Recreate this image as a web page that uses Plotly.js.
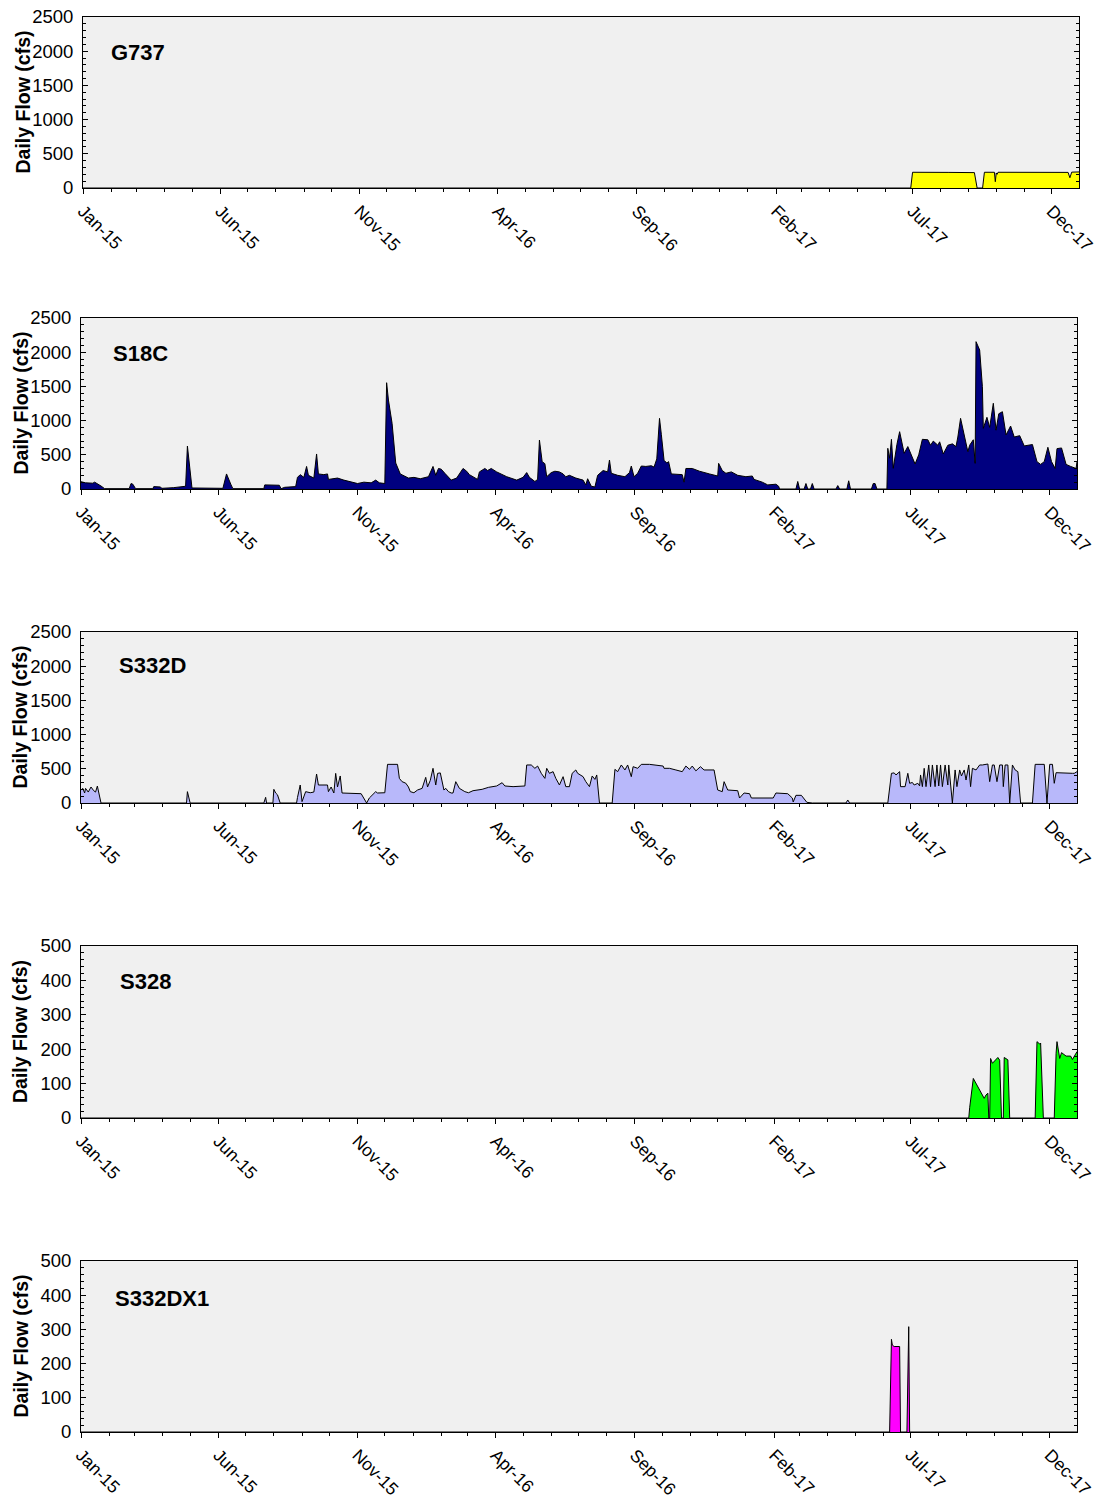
<!DOCTYPE html>
<html>
<head>
<meta charset="utf-8">
<script src="https://cdn.plot.ly/plotly-3.0.1.min.js"></script>
<style>html,body{margin:0;padding:0;background:#fff;}#chart{width:1107px;height:1500px;}</style>
</head>
<body>
<div id="chart"></div>
<script>
// ---------------- DATA ----------------
const stationNames = ["G737", "S18C", "S332D", "S328", "S332DX1"];
const yMax = [2500, 2500, 2500, 500, 500];
const fillColors = ["#ffff00", "#000080", "#b8b8fa", "#00ff00", "#ff00ff"];

const g737Dates = ["2015-01-01","2017-06-29","2017-07-01","2017-07-20","2017-08-10","2017-09-07","2017-09-10","2017-09-16","2017-09-18","2017-09-29","2017-09-30","2017-10-01","2017-10-02","2017-10-03","2017-10-15","2017-11-01","2017-11-20","2017-12-19","2017-12-21","2017-12-23","2017-12-31"];
const g737Flow  = [0,0,230,232,228,225,0,0,230,230,92,220,200,230,228,232,230,228,150,232,235];

const s18cDates = ["2015-01-01","2015-01-06","2015-01-14","2015-01-16","2015-01-23","2015-01-27","2015-02-23","2015-02-25","2015-02-27","2015-03-02","2015-03-21","2015-03-22","2015-03-29","2015-03-31","2015-04-13","2015-04-26","2015-04-28","2015-05-01","2015-05-03","2015-06-06","2015-06-10","2015-06-15","2015-06-17","2015-07-21","2015-07-22","2015-08-07","2015-08-09","2015-08-13","2015-08-25","2015-08-27","2015-08-30","2015-09-03","2015-09-06","2015-09-08","2015-09-10","2015-09-14","2015-09-17","2015-09-19","2015-09-25","2015-09-29","2015-09-30","2015-10-10","2015-10-17","2015-10-25","2015-11-01","2015-11-08","2015-11-16","2015-11-21","2015-11-25","2015-12-01","2015-12-03","2015-12-05","2015-12-09","2015-12-13","2015-12-18","2015-12-27","2016-01-02","2016-01-09","2016-01-18","2016-01-23","2016-01-26","2016-01-29","2016-02-01","2016-02-05","2016-02-12","2016-02-18","2016-02-25","2016-02-29","2016-03-03","2016-03-12","2016-03-14","2016-03-20","2016-03-23","2016-03-27","2016-04-02","2016-04-13","2016-04-24","2016-05-01","2016-05-05","2016-05-08","2016-05-14","2016-05-17","2016-05-19","2016-05-22","2016-05-25","2016-05-27","2016-06-01","2016-06-05","2016-06-10","2016-06-14","2016-06-17","2016-06-21","2016-06-28","2016-07-06","2016-07-09","2016-07-11","2016-07-15","2016-07-19","2016-07-22","2016-07-28","2016-08-02","2016-08-04","2016-08-06","2016-08-13","2016-08-21","2016-08-26","2016-08-28","2016-08-31","2016-09-04","2016-09-08","2016-09-13","2016-09-19","2016-09-22","2016-09-25","2016-09-28","2016-09-30","2016-10-03","2016-10-06","2016-10-08","2016-10-11","2016-10-23","2016-10-25","2016-10-27","2016-11-03","2016-11-11","2016-11-22","2016-12-01","2016-12-02","2016-12-06","2016-12-10","2016-12-16","2016-12-23","2017-01-01","2017-01-08","2017-01-10","2017-01-19","2017-01-25","2017-02-03","2017-02-06","2017-02-07","2017-02-25","2017-02-27","2017-03-01","2017-03-06","2017-03-08","2017-03-10","2017-03-13","2017-03-15","2017-03-17","2017-04-10","2017-04-12","2017-04-14","2017-04-22","2017-04-24","2017-04-26","2017-05-19","2017-05-21","2017-05-23","2017-05-25","2017-06-05","2017-06-06","2017-06-08","2017-06-10","2017-06-12","2017-06-16","2017-06-19","2017-06-22","2017-06-24","2017-06-28","2017-07-01","2017-07-06","2017-07-10","2017-07-14","2017-07-20","2017-07-23","2017-07-26","2017-07-31","2017-08-02","2017-08-06","2017-08-11","2017-08-16","2017-08-20","2017-08-22","2017-08-25","2017-08-29","2017-09-02","2017-09-04","2017-09-08","2017-09-10","2017-09-11","2017-09-15","2017-09-18","2017-09-19","2017-09-23","2017-09-26","2017-09-30","2017-10-03","2017-10-06","2017-10-10","2017-10-14","2017-10-19","2017-10-23","2017-10-29","2017-10-31","2017-11-03","2017-11-12","2017-11-17","2017-11-21","2017-11-25","2017-11-29","2017-12-03","2017-12-07","2017-12-09","2017-12-14","2017-12-19","2017-12-24","2017-12-30","2017-12-31"];
const s18cFlow  = [107,90,85,100,44,5,5,80,70,5,5,35,30,10,20,40,628,200,15,10,220,60,5,5,60,55,5,25,35,170,210,170,330,200,190,160,512,220,210,220,140,160,130,100,80,100,90,130,90,80,1554,1300,960,380,220,160,170,150,180,330,200,300,290,230,130,160,300,260,210,140,250,300,270,300,250,180,130,170,240,170,110,140,716,400,370,180,240,260,250,220,180,200,160,130,60,150,40,30,200,270,250,424,230,200,180,240,336,180,230,336,330,340,320,440,1033,800,420,380,400,220,210,100,300,300,260,220,190,375,270,230,250,200,180,190,140,100,60,70,40,0,0,110,0,0,80,0,0,80,0,0,50,0,0,120,0,0,80,80,0,0,595,450,726,302,650,838,620,522,620,520,365,500,726,720,640,700,640,690,512,640,660,620,760,1033,800,546,640,720,375,2154,2032,1496,887,1048,900,1253,860,1100,1130,790,921,760,780,720,630,650,400,360,400,610,400,300,590,600,360,330,300,400];

const s332dDates = ["2015-01-01","2015-01-03","2015-01-05","2015-01-06","2015-01-09","2015-01-12","2015-01-15","2015-01-17","2015-01-19","2015-01-21","2015-01-23","2015-04-27","2015-04-28","2015-05-01","2015-07-21","2015-07-23","2015-07-24","2015-07-31","2015-08-01","2015-08-03","2015-08-05","2015-08-08","2015-08-26","2015-08-27","2015-08-30","2015-09-01","2015-09-05","2015-09-10","2015-09-14","2015-09-17","2015-09-19","2015-09-29","2015-09-30","2015-10-03","2015-10-06","2015-10-08","2015-10-10","2015-10-13","2015-10-15","2015-11-05","2015-11-08","2015-11-11","2015-11-14","2015-11-21","2015-11-23","2015-12-01","2015-12-04","2015-12-15","2015-12-17","2015-12-20","2015-12-24","2015-12-27","2015-12-29","2016-01-02","2016-01-06","2016-01-11","2016-01-15","2016-01-17","2016-01-20","2016-01-23","2016-01-26","2016-01-28","2016-01-31","2016-02-02","2016-02-04","2016-02-06","2016-02-09","2016-02-12","2016-02-14","2016-02-17","2016-02-21","2016-02-27","2016-03-02","2016-03-07","2016-03-17","2016-03-24","2016-04-02","2016-04-08","2016-04-11","2016-04-20","2016-05-03","2016-05-05","2016-05-10","2016-05-14","2016-05-17","2016-05-21","2016-05-25","2016-05-27","2016-05-30","2016-06-03","2016-06-06","2016-06-10","2016-06-14","2016-06-17","2016-06-21","2016-06-24","2016-06-28","2016-06-30","2016-07-06","2016-07-09","2016-07-13","2016-07-16","2016-07-19","2016-07-21","2016-07-24","2016-08-07","2016-08-10","2016-08-13","2016-08-17","2016-08-21","2016-08-24","2016-08-28","2016-08-30","2016-09-04","2016-09-08","2016-09-17","2016-09-24","2016-10-02","2016-10-03","2016-10-09","2016-10-16","2016-10-23","2016-10-27","2016-10-31","2016-11-03","2016-11-07","2016-11-12","2016-11-16","2016-11-27","2016-12-01","2016-12-06","2016-12-08","2016-12-12","2016-12-23","2016-12-25","2016-12-30","2017-01-05","2017-01-07","2017-01-31","2017-02-03","2017-02-16","2017-02-21","2017-02-22","2017-02-25","2017-03-03","2017-03-06","2017-03-09","2017-03-15","2017-04-21","2017-04-23","2017-04-25","2017-06-06","2017-06-10","2017-06-13","2017-06-15","2017-06-19","2017-06-20","2017-06-25","2017-06-28","2017-06-30","2017-07-03","2017-07-05","2017-07-09","2017-07-11","2017-07-12","2017-07-14","2017-07-16","2017-07-18","2017-07-21","2017-07-23","2017-07-25","2017-07-28","2017-07-30","2017-08-01","2017-08-03","2017-08-05","2017-08-08","2017-08-11","2017-08-12","2017-08-16","2017-08-19","2017-08-21","2017-08-24","2017-08-26","2017-08-29","2017-08-31","2017-09-03","2017-09-05","2017-09-07","2017-09-11","2017-09-15","2017-09-18","2017-09-24","2017-09-26","2017-09-29","2017-10-01","2017-10-04","2017-10-07","2017-10-10","2017-10-11","2017-10-13","2017-10-16","2017-10-18","2017-10-21","2017-10-24","2017-10-27","2017-10-30","2017-11-12","2017-11-15","2017-11-25","2017-11-28","2017-12-01","2017-12-04","2017-12-06","2017-12-08","2017-12-26","2017-12-28","2017-12-31"];
const s332dFlow  = [190,214,146,214,160,234,180,160,248,102,0,0,166,0,0,83,0,0,200,146,120,0,0,80,263,20,166,150,160,424,263,263,166,234,146,433,234,395,146,136,73,0,73,166,146,150,565,565,360,312,290,234,166,150,190,214,375,234,330,507,263,433,440,336,190,214,166,146,146,312,214,166,150,180,200,229,249,297,249,239,249,556,556,507,540,434,360,507,434,458,360,263,385,239,239,434,483,434,385,312,239,395,345,410,0,0,492,458,556,483,556,385,531,507,565,565,556,540,507,507,483,458,540,492,540,470,531,483,483,190,166,312,190,180,73,146,136,73,73,146,136,73,15,112,112,60,10,0,0,44,0,0,434,440,410,458,239,239,434,288,300,263,288,250,410,239,507,239,556,239,556,239,556,249,556,239,556,263,556,0,483,239,483,395,483,336,556,239,507,483,556,556,570,312,556,556,312,556,556,239,556,556,0,556,483,458,0,0,565,565,0,565,565,288,443,434,434,458];

const s328Dates = ["2015-01-01","2017-09-03","2017-09-04","2017-09-06","2017-09-07","2017-09-08","2017-09-20","2017-09-22","2017-09-24","2017-09-25","2017-09-26","2017-09-27","2017-09-29","2017-10-01","2017-10-05","2017-10-07","2017-10-09","2017-10-11","2017-10-12","2017-10-16","2017-10-18","2017-11-15","2017-11-17","2017-11-20","2017-11-21","2017-11-24","2017-12-06","2017-12-08","2017-12-09","2017-12-12","2017-12-14","2017-12-19","2017-12-24","2017-12-26","2017-12-30","2017-12-31"];
const s328Flow  = [0,0,30,80,110,115,57,67,72,0,0,173,159,165,176,168,0,0,176,169,0,0,222,215,218,0,0,188,222,173,190,180,180,170,190,193];

const s332dx1Dates = ["2015-01-01","2017-06-08","2017-06-10","2017-06-11","2017-06-13","2017-06-19","2017-06-20","2017-06-27","2017-06-29","2017-06-30","2017-12-31"];
const s332dx1Flow  = [0,0,271,254,250,250,0,0,308,0,0];

// ---------------- CHART ----------------
const FONT = "Liberation Sans, Arial, Helvetica, sans-serif";
const W = 1107, H = 1500;
const xStart = "2015-01-01", xEnd = "2017-12-31";
// plot boxes in pixels [left, right, top, bottom]
const boxes = [[83,1079,17,188],[81,1077,318,489],[81,1077,632,803],[81,1077,946,1118],[81,1077,1261,1432]];
const seriesDates = [g737Dates, s18cDates, s332dDates, s328Dates, s332dx1Dates];
const seriesFlow = [g737Flow, s18cFlow, s332dFlow, s328Flow, s332dx1Flow];

const data = [];
const layout = {
  width: W, height: H,
  margin: {l:0, r:0, t:0, b:0},
  paper_bgcolor: "#ffffff",
  plot_bgcolor: "#f0f0f0",
  showlegend: false,
  font: {family: FONT, color: "#000"},
  annotations: []
};

boxes.forEach((b, i) => {
  const n = i + 1;
  const xa = "xaxis" + (n === 1 ? "" : n);
  const ya = "yaxis" + (n === 1 ? "" : n);
  const xr = "x" + (n === 1 ? "" : n);
  const yr = "y" + (n === 1 ? "" : n);
  const xdom = [b[0] / W, b[1] / W];
  const ydom = [1 - b[3] / H, 1 - b[2] / H];

  data.push({
    type: "scatter", mode: "lines",
    x: seriesDates[i], y: seriesFlow[i],
    xaxis: xr, yaxis: yr,
    fill: "tozeroy", fillcolor: fillColors[i],
    line: {color: "#000", width: 1},
    hoverinfo: "skip"
  });

  layout[xa] = {
    domain: xdom, anchor: yr, type: "date",
    range: [xStart, xEnd],
    tick0: "2015-01-01", dtick: "M5", tickformat: "%b-%y", tickangle: 45,
    ticks: "outside", ticklen: 5, tickwidth: 1, tickcolor: "#000",
    minor: {ticks: "outside", ticklen: 3, tickcolor: "#000", dtick: "M1", tick0: "2015-01-01", showgrid: false},
    showline: true, linecolor: "#000", linewidth: 1, mirror: true,
    showgrid: false, zeroline: false, fixedrange: true,
    tickfont: {family: FONT, size: 17.5, color: "#000"}
  };
  // top inside ticks
  const topN = n + 5;
  layout["xaxis" + topN] = {
    overlaying: xr, anchor: yr, side: "top", type: "date",
    range: [xStart, xEnd], tick0: "2015-01-01", dtick: "M5",
    ticks: "inside", ticklen: 6, tickcolor: "#000",
    showticklabels: false, showline: false, showgrid: false, zeroline: false
  };

  layout[ya] = {
    domain: ydom, anchor: xr,
    range: [0, yMax[i]], dtick: yMax[i] / 5, tick0: 0,
    ticks: "inside", ticklen: 5, tickcolor: "#000", mirror: "ticks",
    minor: {ticks: "inside", ticklen: 3, tickcolor: "#000", dtick: yMax[i] / 25, showgrid: false},
    showline: true, linecolor: "#000", linewidth: 1,
    showgrid: false, zeroline: false, fixedrange: true,
    ticklabelstandoff: 5,
    tickfont: {family: FONT, size: 18.5, color: "#000"}
  };

  // y-axis title
  layout.annotations.push({
    xref: "paper", yref: "paper",
    x: (i === 0 ? 22 : 20) / W, y: 1 - ((b[2] + b[3]) / 2) / H,
    xanchor: "center", yanchor: "middle", textangle: -90, showarrow: false,
    text: "<b>Daily Flow (cfs)</b>",
    font: {family: FONT, size: 19.5, color: "#000"}
  });
});

const labelPos = [[109,53],[111,353],[117,665],[118,982],[113,1298]];
stationNames.forEach((name, i) => {
  layout.annotations.push({
    xref: "paper", yref: "paper",
    x: labelPos[i][0] / W, y: 1 - labelPos[i][1] / H,
    xanchor: "left", yanchor: "middle", showarrow: false,
    text: "<b>" + name + "</b>",
    font: {family: FONT, size: 22, color: "#000"}
  });
});

Plotly.newPlot("chart", data, layout, {displayModeBar: false, staticPlot: true});
</script>
</body>
</html>
